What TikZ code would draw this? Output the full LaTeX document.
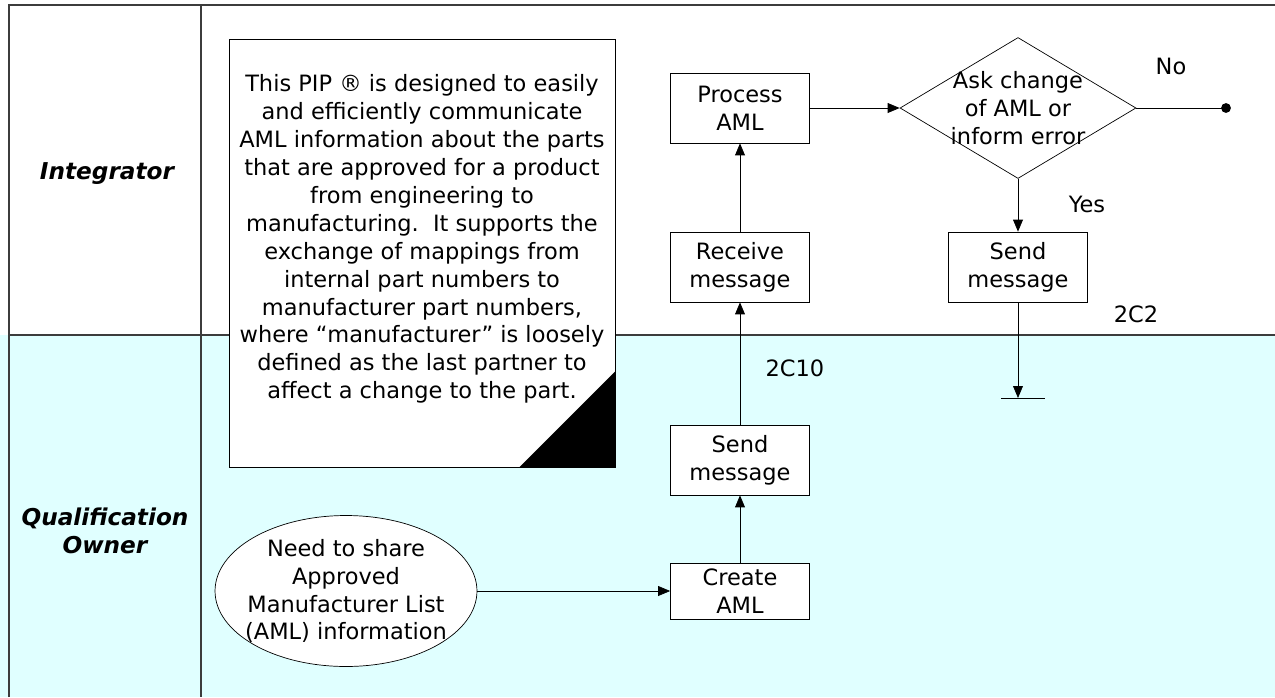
\documentclass[tikz,border=0pt]{standalone}
\usepackage{fontspec}
\setmainfont{DejaVu Sans}
\usetikzlibrary{positioning, shapes.geometric, arrows.meta}
\definecolor{lanecyan}{RGB}{224,255,255}
\definecolor{laneline}{RGB}{60,60,60}
\tikzset{
    txt/.style={font=\fontsize{12.8}{15.9}\selectfont, align=center, inner sep=0pt},
    procbox/.style={txt, draw, fill=white, minimum width=2.78cm, minimum height=1.4cm},
    decision/.style={diamond, draw, fill=white, inner sep=0pt, minimum width=4.72cm, minimum height=2.82cm},
    startoval/.style={ellipse, draw, fill=white, inner sep=0pt, minimum width=5.24cm, minimum height=3.02cm},
    lanename/.style={txt, font=\fontsize{13.2}{16}\selectfont\bfseries\itshape},
    flow/.style={-{Triangle[length=6.8pt,width=5.6pt]}}
}
\begin{document}
\begin{tikzpicture}[x=0.02cm, y=-0.02cm]
        \useasboundingbox (0,0) rectangle (1275,697);
        %sfondo corsia in basso
        \fill[lanecyan] (0,335) rectangle (1275,697);
        %linee delle corsie
        \draw[laneline, line width=1.3pt] (9,697) -- (9,5) -- (1275,5);
        \draw[laneline, line width=1.3pt] (201,5) -- (201,697);
        \draw[laneline, line width=1.3pt] (9,335) -- (1275,335);
        %nomi delle corsie
        \node[lanename] (integrator) at (107,174) {Integrator};
        \node[lanename] (qualowner) at (105,531) {Qualification\\Owner};
        %nota
        \node[draw, fill=white, minimum width=7.72cm, minimum height=8.56cm, inner sep=0pt] (note) at (422,253) {};
        \fill (note.south east) -- ++(-96,0) -- ++(96,-96) -- cycle;
        \node[txt] (notetext) at (422,239) {This PIP ® is designed to easily\\and efficiently communicate\\AML information about the parts\\that are approved for a product\\from engineering to\\manufacturing.\ \ It supports the\\exchange of mappings from\\internal part numbers to\\manufacturer part numbers,\\where “manufacturer” is loosely\\defined as the last partner to\\affect a change to the part.};
        %processi
        \node[procbox] (procaml) at (740,108) {Process\\AML};
        \node[procbox] (recv) at (740,267) {Receive\\message};
        \node[decision] (ask) at (1018,108) {};
        \node[txt] (asktext) at (ask) {Ask change\\of AML or\\inform error};
        \node[procbox] (sendi) at (1018,267) {Send\\message};
        \node[procbox] (sendq) at (740,460) {Send\\message};
        \node[procbox, minimum height=1.12cm] (create) at (740,591) {Create\\AML};
        \node[startoval] (need) at (346,591) {};
        \node[txt] (needtext) at (need) {Need to share\\Approved\\Manufacturer List\\(AML) information};
        \coordinate (noend) at (1226,108);
        \coordinate (stop) at (1018,398);
        %frecce
        \draw[flow] (need) -- (create);
        \draw[flow] (create) -- (sendq);
        \draw[flow] (sendq) -- (recv);
        \draw[flow] (recv) -- (procaml);
        \draw[flow] (procaml) -- (ask);
        \draw[flow] (ask) -- (sendi);
        \draw (ask) -- (noend);
        \fill (noend) circle[radius=2.8pt];
        \draw[flow] (sendi) -- (stop);
        \draw (1001,398) -- (1045,398);
        %etichette
        \node[txt] (no) at (1171,66) {No};
        \node[txt] (yes) at (1087,204) {Yes};
        \node[txt] (ctwo) at (1136,314) {2C2};
        \node[txt] (cten) at (795,368) {2C10};
    \end{tikzpicture}
\end{document}
